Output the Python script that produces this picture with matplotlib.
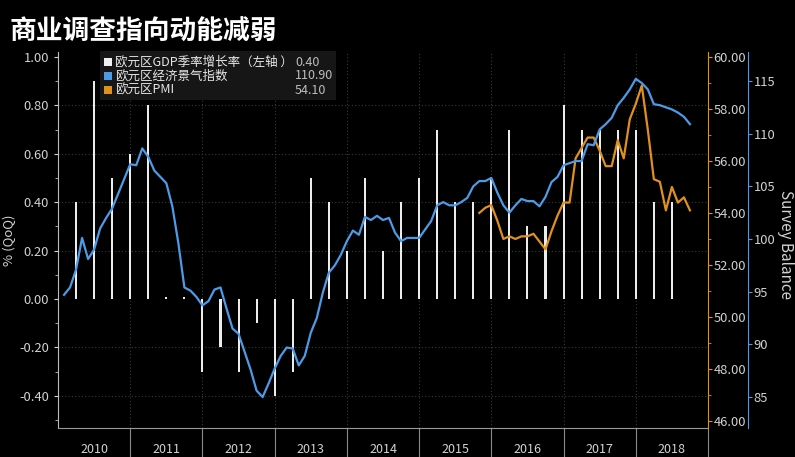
import matplotlib
matplotlib.use("Agg")
import matplotlib.pyplot as plt
from matplotlib.patches import Rectangle
from matplotlib.ticker import MultipleLocator, FixedLocator, NullFormatter

plt.rcParams['font.family'] = ['Noto Sans CJK SC', 'DejaVu Sans']

# ---------------- data ----------------
title = "商业调查指向动能减弱"
legend_names = ["欧元区GDP季率增长率（左轴 ）", "欧元区经济景气指数", "欧元区PMI"]
legend_values = ["0.40", "110.90", "54.10"]
years = [2010, 2011, 2012, 2013, 2014, 2015, 2016, 2017, 2018]

# Quarterly GDP growth (%, QoQ), 2010Q1 .. 2018Q2
gdp_start_year = 2010
gdp_qoq = [0.40, 0.90, 0.50, 0.60,
           0.80, 0.01, 0.01, -0.30,
           -0.20, -0.30, -0.10, -0.40,
           -0.30, 0.50, 0.40, 0.20,
           0.50, 0.20, 0.40, 0.50,
           0.70, 0.40, 0.40, 0.50,
           0.70, 0.30, 0.30, 0.80,
           0.70, 0.70, 0.70, 0.70,
           0.40, 0.40]

# Monthly economic sentiment indicator, Jan 2010 .. Sep 2018
esi_start = (2010, 1)
esi = [94.7, 95.4, 97.1, 100.1, 98.1, 99.0, 101.0, 102.0, 102.9, 104.3, 105.7, 107.1,
       107.0, 108.6, 107.8, 106.5, 105.9, 105.3, 103.1, 99.6, 95.4, 95.1, 94.5, 93.7,
       94.1, 95.2, 95.4, 93.4, 91.5, 91.0, 89.3, 87.6, 85.6, 85.0, 86.3, 87.7,
       88.9, 89.7, 89.6, 88.0, 88.9, 91.1, 92.5, 94.9, 96.8, 97.5, 98.5, 99.8,
       100.8, 100.4, 102.1, 101.8, 102.2, 101.8, 102.0, 100.6, 99.8, 100.1, 100.1, 100.1,
       100.9, 101.7, 103.2, 103.5, 103.2, 103.2, 103.5, 103.9, 105.0, 105.5, 105.5, 105.8,
       104.4, 103.2, 102.5, 103.2, 103.8, 103.6, 103.6, 103.1, 104.0, 105.4, 105.9, 107.0,
       107.2, 107.4, 107.4, 109.0, 108.9, 110.4, 110.9, 111.5, 112.7, 113.4, 114.2, 115.2,
       114.8, 114.2, 112.8, 112.7, 112.5, 112.3, 112.0, 111.6, 110.9]

# Monthly composite PMI, Oct 2015 .. Sep 2018
pmi_start = (2015, 10)
pmi = [54.0, 54.2, 54.3,
       53.7, 53.0, 53.1, 53.0, 53.1, 53.1, 53.2, 52.9, 52.6, 53.3, 53.9, 54.4,
       54.4, 56.1, 56.5, 56.9, 56.9, 56.4, 55.8, 55.8, 56.8, 56.1, 57.6, 58.2,
       58.9, 57.2, 55.3, 55.2, 54.1, 55.0, 54.4, 54.6, 54.1]

# ---------------- positions (decimal years) ----------------
gdp_x = [gdp_start_year + (i + 1) / 4 for i in range(len(gdp_qoq))]
esi_x = [esi_start[0] + (esi_start[1] - 1 + i + 1) / 12 for i in range(len(esi))]
pmi_x = [pmi_start[0] + (pmi_start[1] - 1 + i + 1) / 12 for i in range(len(pmi))]

# ---------------- styling ----------------
BG = "#000000"
TXT = "#d2d2d2"
BLUE = "#4d9be6"
ORANGE = "#e0901c"
GRIDC = "#3a3a3a"

W, H = 795, 457
fig = plt.figure(figsize=(W / 100, H / 100), dpi=100, facecolor=BG)
L, R, T, B = 58, 708, 52, 428
ax = fig.add_axes([L / W, 1 - B / H, (R - L) / W, (B - T) / H])
ax.set_facecolor(BG)

# GDP bars
ax.bar(gdp_x, gdp_qoq, width=0.028, color="#ececec", zorder=3)
ax.set_xlim(2010, 2019)
ax.set_ylim(-0.533, 1.021)

# grid
for v in [-0.4, -0.2, 0.2, 0.4, 0.6, 0.8]:
    ax.axhline(v, color=GRIDC, lw=0.8, ls=(0, (1, 2)), zorder=1)
for yv in range(2011, 2019):
    ax.axvline(yv, color=GRIDC, lw=0.8, ls=(0, (1, 2)), zorder=1)

for s in ["top", "right"]:
    ax.spines[s].set_visible(False)
ax.spines["left"].set_color("#bdbdbd")
ax.spines["bottom"].set_color("#9a9a9a")
ax.yaxis.set_minor_locator(MultipleLocator(0.1))
ax.set_yticks([-0.4, -0.2, 0.0, 0.2, 0.4, 0.6, 0.8, 1.0])
ax.set_yticklabels([f"{v:.2f}" for v in [-0.4, -0.2, 0.0, 0.2, 0.4, 0.6, 0.8, 1.0]])
ax.tick_params(axis="y", which="major", colors=TXT, labelsize=9.3, length=3, width=0.8)
ax.tick_params(axis="y", which="minor", color="#bdbdbd", length=2, width=0.6)
ax.set_ylabel("% (QoQ)", color=TXT, fontsize=9.5, labelpad=2)

# x axis: long separators at year boundaries, labels at mid-year
ax.xaxis.set_major_locator(FixedLocator(list(range(2011, 2020))))
ax.xaxis.set_major_formatter(NullFormatter())
ax.xaxis.set_minor_locator(FixedLocator([y + 0.5 for y in years]))
ax.set_xticklabels([str(y) for y in years], minor=True)
ax.tick_params(axis="x", which="major", length=30, width=0.8, color="#8a8a8a", direction="out")
ax.tick_params(axis="x", which="minor", length=0, pad=11, labelcolor=TXT, labelsize=9)

# PMI axis (orange, right)
ax2 = ax.twinx()
ax2.plot(pmi_x, pmi, color=ORANGE, lw=1.6, zorder=4)
ax2.set_ylim(45.73, 60.19)
ax2.yaxis.set_minor_locator(MultipleLocator(1))
ax2.set_yticks([46, 48, 50, 52, 54, 56, 58, 60])
ax2.set_yticklabels([f"{v:.2f}" for v in [46, 48, 50, 52, 54, 56, 58, 60]])
for s in ["top", "left", "bottom"]:
    ax2.spines[s].set_visible(False)
ax2.spines["right"].set_color(ORANGE)
ax2.tick_params(axis="y", which="major", colors=ORANGE, labelcolor=TXT, labelsize=9.3, length=3, width=0.8, pad=1)
ax2.tick_params(axis="y", which="minor", colors=ORANGE, length=2, width=0.6)

# ESI axis (blue, outer right)
ax3 = ax.twinx()
ax3.plot(esi_x, esi, color=BLUE, lw=1.6, zorder=5)
ax3.set_ylim(82.06, 117.75)
ax3.set_yticks([85, 90, 95, 100, 105, 110, 115])
for s in ["top", "left", "bottom"]:
    ax3.spines[s].set_visible(False)
ax3.spines["right"].set_position(("outward", 40 * 0.72))
ax3.spines["right"].set_color(BLUE)
ax3.tick_params(axis="y", which="major", colors=BLUE, labelcolor=TXT, labelsize=9.3, length=3, width=0.8, pad=1)
ax3.set_ylabel("Survey Balance", color=TXT, fontsize=11, rotation=270, va="center")
ax3.yaxis.set_label_coords((786 - L) / (R - L), (B - 245) / (B - T))

# Legend box
fig.patches.append(Rectangle((100 / W, 1 - 100 / H), 236 / W, 49 / H,
                             transform=fig.transFigure, facecolor="#161616",
                             edgecolor="none", zorder=10))
row_y = [62, 76, 90]
sw_colors = ["#f0f0f0", BLUE, ORANGE]
for yy, c, name, val in zip(row_y, sw_colors, legend_names, legend_values):
    fig.patches.append(Rectangle((104 / W, 1 - (yy + 4) / H), 8 / W, 8 / H,
                                 transform=fig.transFigure, facecolor=c,
                                 edgecolor="none", zorder=11))
    fig.text(115 / W, 1 - yy / H, name, color="#e6e6e6", fontsize=9,
             va="center", ha="left", zorder=12)
    fig.text(295 / W, 1 - yy / H, val, color="#bdbdbd", fontsize=9,
             va="center", ha="left", zorder=12)

# Title
fig.text(10 / W, 1 - 32 / H, title, color="white", fontsize=19.3,
         fontweight="bold", va="center", ha="left")

fig.savefig("out.png", dpi=100, facecolor=BG)
